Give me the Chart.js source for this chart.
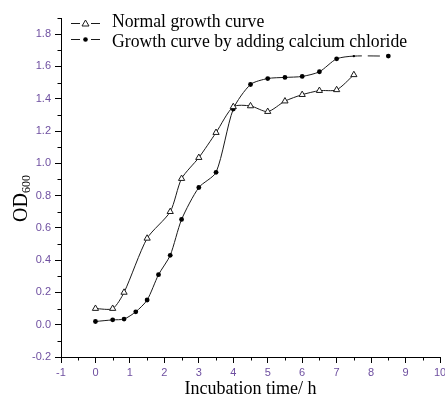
<!DOCTYPE html>
<html lang="en">
<head>
<meta charset="UTF-8">
<title>Growth curve</title>
<script src="https://cdn.jsdelivr.net/npm/chart.js"></script>
<style>
  body { margin: 0; background: #fff; overflow: hidden; }
  .chart-box { width: 445px; height: 403px; position: relative; }
</style>
</head>
<body>
<div class="chart-box"><canvas id="growthChart"></canvas></div>
<script>
  // incubation time (h) and OD600 readings
  const seriesLabels = ['Normal growth curve', 'Growth curve by adding calcium chloride'];
  const normalHours = [0, 0.5, 0.83, 1.5, 2.17, 2.5, 3, 3.5, 4, 4.5, 5, 5.5, 6, 6.5, 7, 7.5];
  const normalOD = [0.10, 0.10, 0.20, 0.535, 0.70, 0.905, 1.035, 1.19, 1.35, 1.355, 1.32, 1.385, 1.425, 1.45, 1.455, 1.548];
  const calciumHours = [0, 0.5, 0.83, 1.17, 1.5, 1.83, 2.17, 2.5, 3, 3.5, 4, 4.5, 5, 5.5, 6, 6.5, 7, 7.5, 8.5];
  const calciumOD = [0.02, 0.03, 0.035, 0.08, 0.153, 0.31, 0.43, 0.652, 0.85, 0.944, 1.336, 1.488, 1.525, 1.532, 1.538, 1.567, 1.647, 1.664, 1.664];
  const xRange = [-1, 10];
  const yRange = [-0.2, 1.9];

  const ink = '#1a1a1a';
  const tickColor = '#6e4fa0';

  const isMajorX = v => Math.abs(v - Math.round(v)) < 1e-6;
  const isMajorY = v => Math.abs(Math.round(v * 10)) % 2 === 0;

  // short minor ticks (the library draws only one tick length)
  const minorTicks = {
    id: 'minorTicks',
    afterDraw(chart) {
      const c = chart.ctx, a = chart.chartArea;
      const xs = chart.scales.x, ys = chart.scales.y;
      c.save();
      c.strokeStyle = '#000';
      c.lineWidth = 1;
      c.beginPath();
      xs.ticks.forEach(t => {
        if (isMajorX(t.value)) return;
        const px = Math.round(xs.getPixelForValue(t.value)) + 0.5;
        c.moveTo(px, a.bottom);
        c.lineTo(px, a.bottom + 3.5);
      });
      ys.ticks.forEach(t => {
        if (isMajorY(t.value)) return;
        const py = Math.round(ys.getPixelForValue(t.value)) + 0.5;
        c.moveTo(a.left - 3.5, py);
        c.lineTo(a.left, py);
      });
      c.stroke();
      c.restore();
    }
  };

  // y title with subscript, and the "—△—" style legend
  const extras = {
    id: 'extras',
    afterDraw(chart) {
      const c = chart.ctx;
      c.save();
      c.fillStyle = '#000';
      c.textBaseline = 'alphabetic';
      c.textAlign = 'left';

      c.save();
      c.translate(27, 222);
      c.rotate(-Math.PI / 2);
      c.font = '20px "Liberation Serif"';
      c.fillText('OD', 0, 0);
      const w = c.measureText('OD').width;
      c.font = '12px "Liberation Serif"';
      c.fillText('600', w, 2.5);
      c.restore();

      const rows = [
        { lineY: 23.5, base: 27, ds: chart.data.datasets[0] },
        { lineY: 39.5, base: 46.5, ds: chart.data.datasets[1] }
      ];
      rows.forEach(r => {
        c.strokeStyle = ink;
        c.lineWidth = 1;
        c.beginPath();
        c.moveTo(71, r.lineY); c.lineTo(80, r.lineY);
        c.moveTo(91, r.lineY); c.lineTo(100, r.lineY);
        c.stroke();
        c.beginPath();
        if (r.ds.pointStyle === 'triangle') {
          c.moveTo(85.5, r.lineY - 3.5);
          c.lineTo(89, r.lineY + 2.5);
          c.lineTo(82, r.lineY + 2.5);
          c.closePath();
          c.fillStyle = '#fff';
          c.fill();
          c.stroke();
        } else {
          c.arc(85.5, r.lineY, 2.3, 0, Math.PI * 2);
          c.fillStyle = '#000';
          c.fill();
        }
        c.fillStyle = '#000';
        c.save();
        c.translate(112, r.base);
        c.scale(1, 1.08);
        c.font = '17.7px "Liberation Serif"';
        c.fillText(r.ds.label, 0, 0);
        c.restore();
      });
      c.restore();
    }
  };

  const lastCa = calciumOD.length - 1;

  new Chart(document.getElementById('growthChart'), {
    type: 'line',
    data: {
      datasets: [
        {
          label: seriesLabels[0],
          data: normalHours.map((h, i) => ({ x: h, y: normalOD[i] })),
          borderColor: ink,
          borderWidth: 1,
          tension: 0.25,
          pointStyle: 'triangle',
          pointRadius: 3.6,
          pointBackgroundColor: '#fff',
          pointBorderColor: ink,
          pointBorderWidth: 1
        },
        {
          label: seriesLabels[1],
          data: calciumHours.map((h, i) => ({ x: h, y: calciumOD[i] })),
          borderColor: ink,
          borderWidth: 1,
          tension: 0.25,
          pointStyle: 'circle',
          pointRadius: calciumHours.map((h, i) => i === lastCa - 1 ? 1.2 : 2.4),
          pointBackgroundColor: '#000',
          pointBorderColor: '#000',
          pointBorderWidth: 0,
          segment: {
            borderDash: ctx => ctx.p1DataIndex === lastCa ? [8, 6, 12, 8] : undefined
          }
        }
      ]
    },
    options: {
      responsive: true,
      maintainAspectRatio: false,
      animation: false,
      layout: { padding: { top: 18, right: 2, left: 0, bottom: 0 } },
      plugins: { legend: { display: false }, tooltip: { enabled: false } },
      scales: {
        x: {
          type: 'linear',
          min: xRange[0],
          max: xRange[1],
          afterFit(scale) {
            scale.paddingRight = 0;
            scale.paddingLeft = 0;
            scale.height = 46;
          },
          ticks: {
            stepSize: 0.5,
            autoSkip: false,
            maxRotation: 0,
            padding: 3,
            color: tickColor,
            font: { family: '"Liberation Sans"', size: 11 },
            callback: v => isMajorX(v) ? String(Math.round(v)) : ''
          },
          grid: {
            drawOnChartArea: false,
            tickLength: 6,
            tickColor: ctx => isMajorX(ctx.tick.value) ? '#000' : 'rgba(0,0,0,0)'
          },
          border: { display: true, color: '#000', width: 1 },
          title: {
            display: true,
            text: 'Incubation time/ h',
            color: '#000',
            font: { family: '"Liberation Serif"', size: 18 },
            padding: { top: 0, bottom: 3 }
          }
        },
        y: {
          type: 'linear',
          min: yRange[0],
          max: yRange[1],
          afterFit(scale) {
            scale.width = 61;
          },
          ticks: {
            stepSize: 0.1,
            autoSkip: false,
            padding: 4,
            color: tickColor,
            font: { family: '"Liberation Sans"', size: 11 },
            callback: v => isMajorY(v) ? (Math.round(v * 10) / 10).toFixed(1) : ''
          },
          grid: {
            drawOnChartArea: false,
            tickLength: 6,
            tickColor: ctx => isMajorY(ctx.tick.value) ? '#000' : 'rgba(0,0,0,0)'
          },
          border: { display: true, color: '#000', width: 1 }
        }
      }
    },
    plugins: [minorTicks, extras]
  });
</script>
</body>
</html>
